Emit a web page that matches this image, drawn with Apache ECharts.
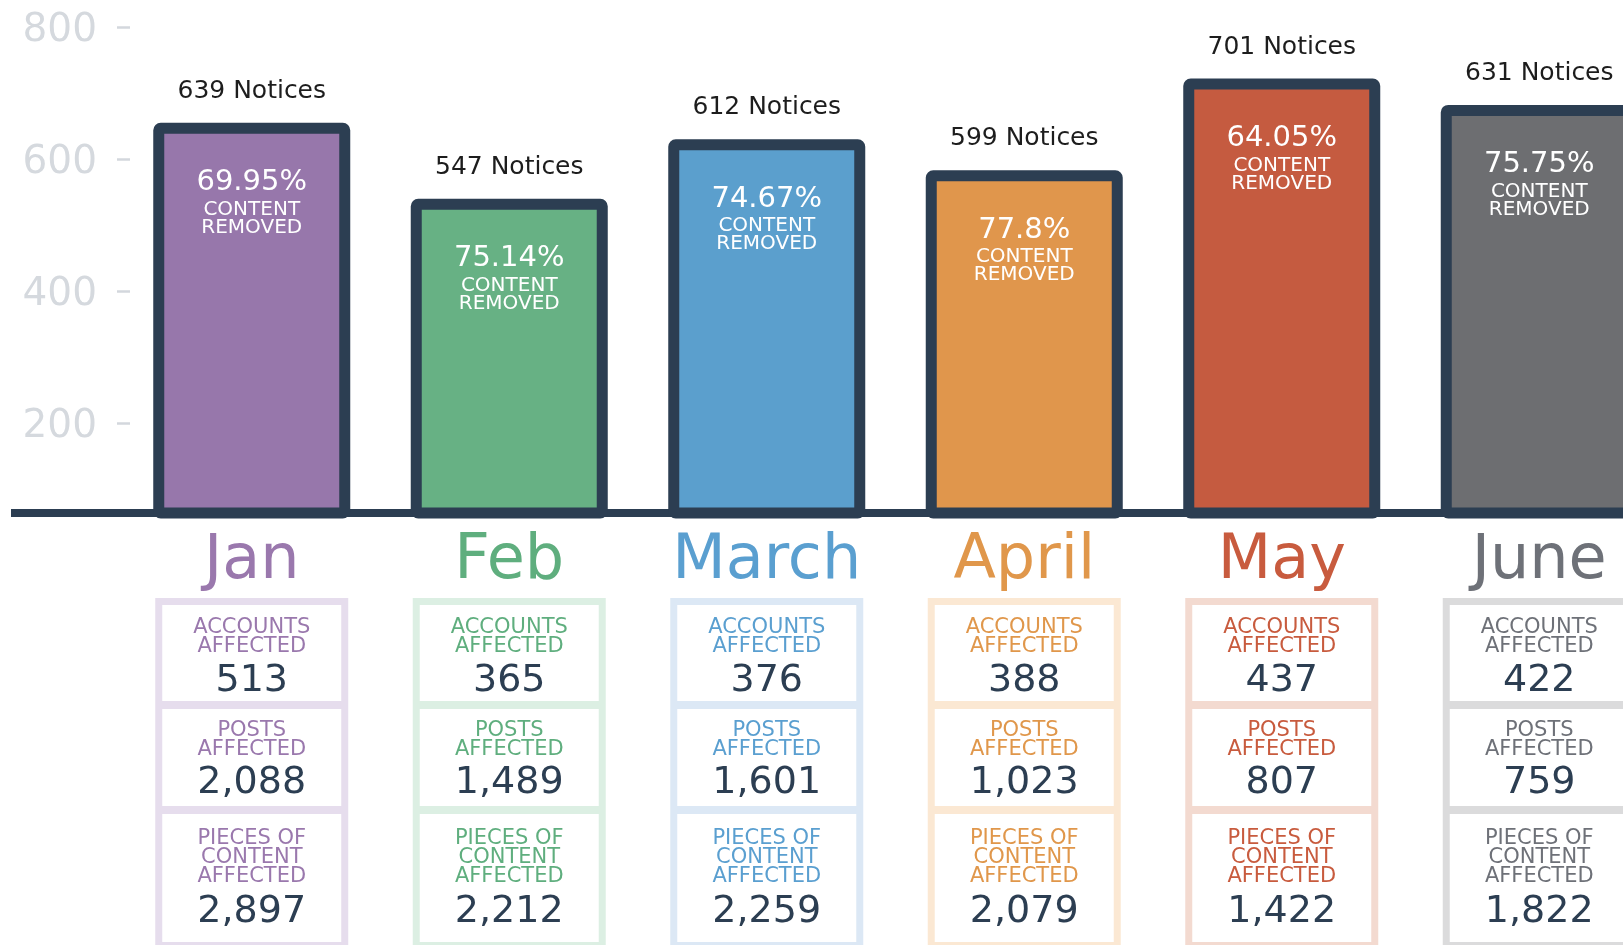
<!DOCTYPE html>
<html>
<head>
<meta charset="utf-8">
<title>Notices per month</title>
<script src="https://cdn.jsdelivr.net/npm/echarts@6/dist/echarts.min.js"></script>
<style>
  html, body { margin: 0; padding: 0; background: #fff; }
  #main { width: 1623px; height: 945px; }
</style>
</head>
<body>
<div id="main"></div>
<script>
var months = ["Jan", "Feb", "March", "April", "May", "June"];
var notices = [639, 547, 612, 599, 701, 631];
var barHeights = [655, 540, 630, 583, 722, 682];
var removedPct = [69.95, 75.14, 74.67, 77.8, 64.05, 75.75];
var accounts = [513, 365, 376, 388, 437, 422];
var posts = [2088, 1489, 1601, 1023, 807, 759];
var pieces = [2897, 2212, 2259, 2079, 1422, 1822];
var yTicks = [200, 400, 600, 800];
var yMin = 64;
var yMax = 800;

var barColors = ["#9777ab", "#67b184", "#5b9fcd", "#e0964c", "#c55b40", "#6d6e71"];
var textColors = ["#9a78ad", "#5fae7e", "#5a9fd0", "#e0974b", "#c85b3e", "#6e7178"];
var panelColors = ["#e6dded", "#dcefe3", "#dce8f5", "#fbe8d3", "#f3dad0", "#dbdbdc"];
var navy = "#2c3e52";
var font = "DejaVu Sans";
var gridLeft = 123;

var chart = echarts.init(document.getElementById("main"));

function fmt(n) {
  return n.toLocaleString("en-US");
}

// stats panel under each bar
function renderPanel(params, api) {
  var i = params.dataIndex;
  var p = api.coord([api.value(0), yMin]);
  var cx = p[0];
  var by = p[1];
  var tc = textColors[i];
  function cell(y, h) {
    return { type: "rect", shape: { x: cx - 89.5, y: by + y, width: 179, height: h }, style: { fill: "#fff" } };
  }
  function label(txt, y) {
    return {
      type: "text",
      style: {
        text: txt, x: cx, y: by + y, align: "center", verticalAlign: "middle",
        fontSize: 21, lineHeight: 19, fontFamily: font, fill: tc
      }
    };
  }
  function num(v, y) {
    return {
      type: "text",
      style: {
        text: fmt(v), x: cx, y: by + y, align: "center", verticalAlign: "middle",
        fontSize: 38, fontFamily: font, fill: navy
      }
    };
  }
  return {
    type: "group",
    children: [
      { type: "rect", shape: { x: cx - 96.5, y: by + 85, width: 193, height: 380 }, style: { fill: panelColors[i] } },
      cell(92, 96),
      cell(196, 97),
      cell(301, 128),
      label("ACCOUNTS\nAFFECTED", 124),
      num(accounts[i], 168.5),
      label("POSTS\nAFFECTED", 227),
      num(posts[i], 270.5),
      label("PIECES OF\nCONTENT\nAFFECTED", 345),
      num(pieces[i], 399)
    ]
  };
}

var option = {
  backgroundColor: "#fff",
  animation: false,
  grid: {
    left: gridLeft,
    width: 1545,
    top: 27,
    bottom: 432,
    containLabel: false,
    outerBoundsMode: "none"
  },
  xAxis: {
    type: "category",
    data: months,
    axisLine: { lineStyle: { color: navy, width: 8 } },
    axisTick: { show: false },
    axisLabel: {
      margin: 18,
      fontSize: 62,
      lineHeight: 62,
      fontFamily: font,
      color: function (value, index) {
        return textColors[index];
      }
    }
  },
  yAxis: {
    type: "value",
    min: yMin,
    max: yMax,
    offset: -7,
    axisLine: { show: false },
    splitLine: { show: false },
    axisTick: {
      show: true,
      length: 13,
      customValues: yTicks,
      lineStyle: { color: "#d3d7dd", width: 2.5 }
    },
    axisLabel: {
      customValues: yTicks,
      margin: 33,
      verticalAlign: "top",
      lineHeight: 7,
      fontSize: 39,
      fontFamily: font,
      color: "#d5d9de"
    }
  },
  series: [
    {
      type: "bar",
      data: barHeights,
      barWidth: 197,
      barGap: "-100%",
      itemStyle: {
        color: function (p) {
          return barColors[p.dataIndex];
        },
        borderColor: navy,
        borderWidth: 11,
        borderRadius: 2
      },
      label: {
        show: true,
        position: "insideTop",
        distance: 42,
        formatter: function (p) {
          return "{p|" + removedPct[p.dataIndex] + "%}\n{s|CONTENT}\n{s|REMOVED}";
        },
        rich: {
          p: { fontSize: 29, lineHeight: 36, color: "#fff", fontFamily: font },
          s: { fontSize: 20, lineHeight: 18, color: "#fff", fontFamily: font }
        }
      }
    },
    {
      type: "bar",
      data: barHeights,
      barWidth: 197,
      barGap: "-100%",
      itemStyle: { color: "rgba(0,0,0,0)" },
      label: {
        show: true,
        position: "top",
        distance: 19,
        fontSize: 25,
        fontFamily: font,
        color: "#1d1d1d",
        formatter: function (p) {
          return notices[p.dataIndex] + " Notices";
        }
      }
    },
    {
      type: "custom",
      renderItem: renderPanel,
      data: months.map(function (m, i) {
        return [i, yMin];
      }),
      encode: { x: 0, y: 1 },
      clip: false,
      silent: true
    }
  ]
};

chart.setOption(option);

// baseline continues to the left of the plot area
var baseY = chart.convertToPixel({ yAxisIndex: 0 }, yMin);
chart.setOption({
  graphic: [
    {
      type: "line",
      shape: { x1: 11, y1: baseY, x2: gridLeft + 4, y2: baseY },
      style: { stroke: navy, lineWidth: 8 },
      z: 10
    }
  ]
});
</script>
</body>
</html>
